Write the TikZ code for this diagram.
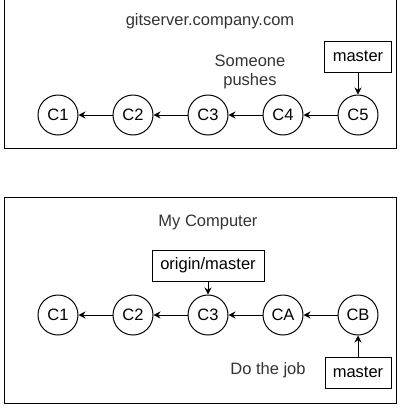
\documentclass[tikz,border=0pt]{standalone}
\usepackage{fontspec}
\setmainfont{Liberation Sans}
\usetikzlibrary{arrows.meta,positioning}
\tikzset{
  commit/.style={circle,draw=black,line width=1pt,minimum size=40pt,inner sep=0pt,
    font=\fontsize{16.5}{19}\selectfont},
  refbox/.style={rectangle,draw=black,line width=1pt,minimum height=31pt,inner sep=0pt,
    font=\fontsize{16.5}{19}\selectfont},
  plain/.style={align=center,inner sep=0pt,text=black!80,
    font=\fontsize{16.5}{19}\selectfont},
  arrow/.style={-{Stealth[length=7pt,width=7pt]},line width=1pt}
}
\begin{document}
\begin{tikzpicture}[x=1pt,y=-1pt,node distance=34pt]
  \useasboundingbox (0,0) rectangle (409,413);
  % server
  \draw[line width=1pt] (4,-10) rectangle (396.5,148);
  \node[plain] (srv) at (210,21) {gitserver.company.com};
  \node[commit] (s1) at (58,115) {C1};
  \node[commit,right=of s1] (s2) {C2};
  \node[commit,right=of s2] (s3) {C3};
  \node[commit,right=of s3] (s4) {C4};
  \node[commit,right=of s4] (s5) {C5};
  \foreach \a/\b in {s2/s1,s3/s2,s4/s3,s5/s4}
    \draw[arrow] (\a)--(\b);
  \node[refbox,minimum width=67pt,above=22pt of s5] (smaster) {master};
  \draw[arrow] (smaster)--(s5);
  \node[plain] (push) at (250,72) {Someone\\pushes};
  % local
  \draw[line width=1pt] (4,197) rectangle (396.5,403);
  \node[plain] (me) at (208,222) {My Computer};
  \node[commit] (l1) at (58,315) {C1};
  \node[commit,right=of l1] (l2) {C2};
  \node[commit,right=of l2] (l3) {C3};
  \node[commit,right=of l3] (la) {CA};
  \node[commit,right=of la] (lb) {CB};
  \foreach \a/\b in {l2/l1,l3/l2,la/l3,lb/la}
    \draw[arrow] (\a)--(\b);
  \node[refbox,minimum width=112pt,above=13pt of l3] (omaster) {origin/master};
  \draw[arrow] (omaster)--(l3);
  \node[refbox,minimum width=66pt,below=21pt of lb] (lmaster) {master};
  \draw[arrow] (lmaster)--(lb);
  \node[plain] (job) at (268,370) {Do the job};
\end{tikzpicture}
\end{document}
